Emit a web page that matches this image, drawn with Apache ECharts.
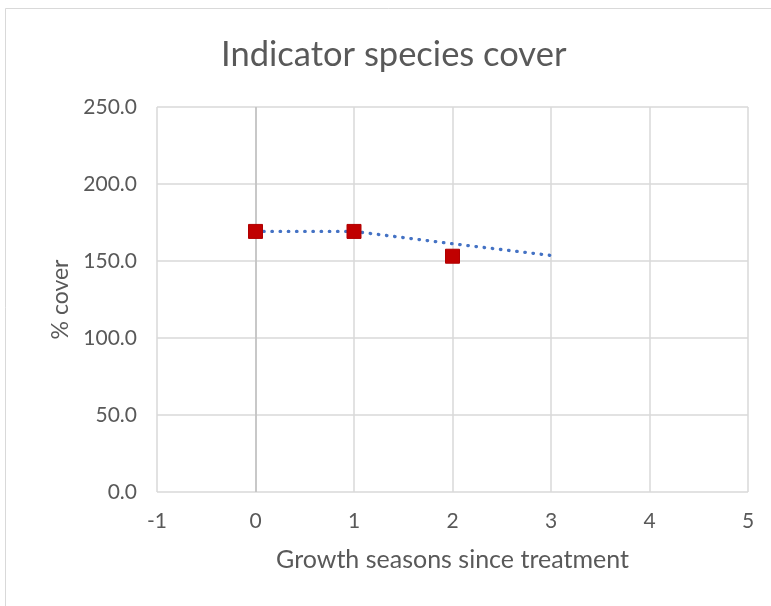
<!DOCTYPE html>
<html><head><meta charset="utf-8">
<script src="https://cdn.jsdelivr.net/npm/echarts@6/dist/echarts.min.js"></script>
<style>html,body{margin:0;padding:0;background:#fff}#c{width:771px;height:606px}</style>
</head><body><div id="c"></div>
<script>
var titleText = "Indicator species cover";
var xName = "Growth seasons since treatment";
var yName = "% cover";
var seasons = [0, 1, 2];
var cover = [169.2, 169.2, 153.1];
var trendX = [0, 1, 2, 3];
var trendY = [169.2, 169.2, 161.2, 153.6];

var font = "Lato, 'Open Sans', sans-serif";
var chart = echarts.init(document.getElementById('c'));
chart.setOption({
  animation: false,
  backgroundColor: '#fff',
  graphic: [{type:'rect', shape:{x:5.5,y:8.5,width:800,height:700}, style:{fill:'none', stroke:'#d9d9d9', lineWidth:1}, z:-1}],
  title: {text: titleText, left: 216, top: 32, textStyle:{fontFamily:font, fontSize:34.5, fontWeight:'normal', color:'#595959'}},
  grid: {left:157, right:23, top:107, bottom:114},
  xAxis: {type:'value', min:-1, max:5, interval:1, name:xName, nameLocation:'middle', nameGap:55,
    nameTextStyle:{fontFamily:font, fontSize:25, color:'#595959'},
    axisLine:{show:false}, axisTick:{show:false},
    axisLabel:{fontFamily:font, fontSize:21, color:'#595959', margin:19},
    splitLine:{show:true, lineStyle:{color:'#d9d9d9', width:1.5}}},
  yAxis: {type:'value', min:0, max:250, interval:50, name:yName, nameLocation:'middle', nameGap:85, nameRotate:90,
    nameTextStyle:{fontFamily:font, fontSize:23, color:'#595959'},
    axisLine:{show:false}, axisTick:{show:false},
    axisLabel:{fontFamily:font, fontSize:21, color:'#595959', margin:20, formatter:function(v){return v.toFixed(1);}},
    splitLine:{show:true, lineStyle:{color:'#d9d9d9', width:1.5}}},
  series: [
    {type:'line', data: trendX.map(function(x,i){return [x, trendY[i]];}), showSymbol:false, symbol:'none',
     lineStyle:{color:'#4472c4', width:3.3, type:[0.5,7.7], cap:'round'}, z:3,
     markLine:{silent:true, symbol:'none', label:{show:false}, lineStyle:{color:'#bfbfbf', width:1.5, type:'solid'}, data:[{xAxis:0}], z:1}},
    {type:'scatter', data: seasons.map(function(x,i){return [x, cover[i]];}), symbol:'rect', symbolSize:14,
     itemStyle:{color:'#c00000', borderColor:'#b00000', borderWidth:1, opacity:1}, z:4}
  ]
});
</script></body></html>
